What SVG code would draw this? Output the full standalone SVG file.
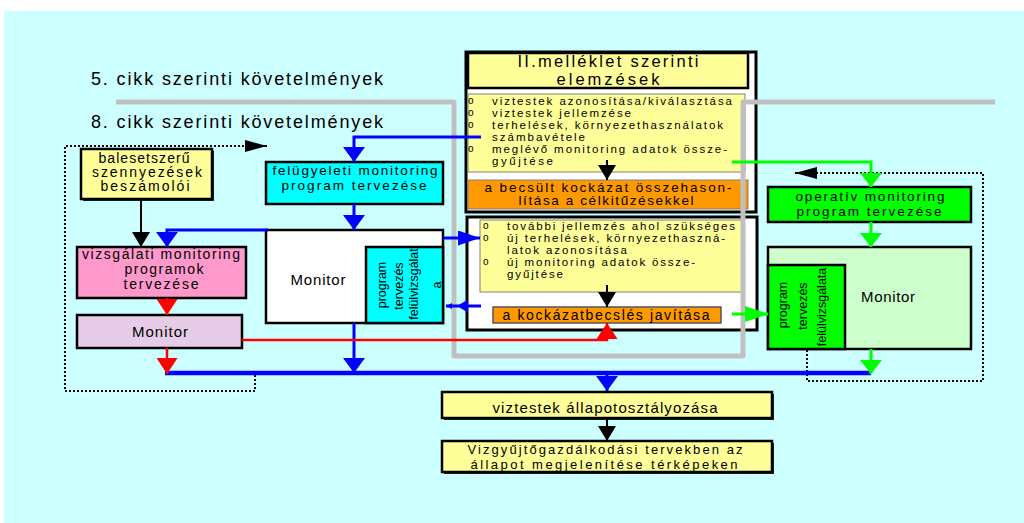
<svg xmlns="http://www.w3.org/2000/svg" width="1024" height="523" viewBox="0 0 1024 523">
<defs>
<style>
.t{font-family:"Liberation Sans",Arial,sans-serif;fill:#000}
.m{text-anchor:middle}
.big{font-size:18px}
.hd{font-size:16.5px}
.bx{font-size:14px}
.bx13{font-size:13.5px}
.bx15{font-size:15px}
.or{font-size:13.5px}
.ls{font-size:11.5px}
.bul{font-size:10px}
.rt{font-size:12.5px}
.box{stroke:#000;stroke-width:2.5}
.thin{stroke:#808080;stroke-width:1}
.sh{fill:#222}
.blue{stroke:#0000FF;stroke-width:3;fill:none}
.bluew{stroke:#0000FF;stroke-width:4.5;fill:none}
.red{stroke:#FF0000;stroke-width:2.5;fill:none}
.green{stroke:#00FF00;stroke-width:3;fill:none}
.black{stroke:#000;stroke-width:2;fill:none}
.dot{stroke:#000;stroke-width:2;stroke-dasharray:2 2;fill:none}
.gray{stroke:#C0C0C0;stroke-width:5;fill:none;stroke-linejoin:round}
</style>
<marker id="aBlueV" viewBox="0 0 15 22" refX="15" refY="11" markerWidth="15" markerHeight="22" markerUnits="userSpaceOnUse" orient="auto"><path d="M0,0 L15,11 L0,22 z" fill="#0000FF"/></marker>
<marker id="aBlueH" viewBox="0 0 22 15" refX="22" refY="7.5" markerWidth="22" markerHeight="15" markerUnits="userSpaceOnUse" orient="auto"><path d="M0,0 L22,7.5 L0,15 z" fill="#0000FF"/></marker>
<marker id="aBlueM" viewBox="0 0 11 13" refX="11" refY="6.5" markerWidth="11" markerHeight="13" markerUnits="userSpaceOnUse" orient="auto"><path d="M0,0 L11,6.5 L0,13 z" fill="#0000FF"/></marker>
<marker id="aBlueS" viewBox="0 0 6 6" refX="6" refY="3" markerWidth="6" markerHeight="6" markerUnits="userSpaceOnUse" orient="auto"><path d="M0,0 L6,3 L0,6 z" fill="#0000FF"/></marker>
<marker id="aRedV" viewBox="0 0 16 21" refX="16" refY="10.5" markerWidth="16" markerHeight="21" markerUnits="userSpaceOnUse" orient="auto"><path d="M0,0 L16,10.5 L0,21 z" fill="#FF0000"/></marker>
<marker id="aGreenV" viewBox="0 0 14 22" refX="14" refY="11" markerWidth="14" markerHeight="22" markerUnits="userSpaceOnUse" orient="auto"><path d="M0,0 L14,11 L0,22 z" fill="#00FF00"/></marker>
<marker id="aGreenH" viewBox="0 0 23 16" refX="23" refY="8" markerWidth="23" markerHeight="16" markerUnits="userSpaceOnUse" orient="auto"><path d="M0,0 L23,8 L0,16 z" fill="#00FF00"/></marker>
<marker id="aBlackV" viewBox="0 0 15 18" refX="15" refY="9" markerWidth="15" markerHeight="18" markerUnits="userSpaceOnUse" orient="auto"><path d="M0,0 L15,9 L0,18 z" fill="#000"/></marker>
<marker id="aBlackH" viewBox="0 0 22 12" refX="22" refY="6" markerWidth="22" markerHeight="12" markerUnits="userSpaceOnUse" orient="auto"><path d="M0,0 L22,6 L0,12 z" fill="#000"/></marker>
</defs>

<rect x="4" y="11" width="1020" height="512" fill="#CCFFFF"/>

<g id="labels">
<text class="t big" x="91" y="85" textLength="292" lengthAdjust="spacing">5. cikk szerinti követelmények</text>
<text class="t big" x="91" y="128" textLength="292" lengthAdjust="spacing">8. cikk szerinti követelmények</text>
</g>

<g id="elemzesek">
<rect x="466" y="52" width="290" height="160" fill="#FFFFFF" stroke="#000" stroke-width="3"/>
<rect x="468" y="53" width="280" height="35" fill="#FFFF99" class="box"/>
<text class="t hd m"><tspan x="608" y="67" textLength="181" lengthAdjust="spacing">II.melléklet szerinti</tspan><tspan x="608" y="85" textLength="103" lengthAdjust="spacing">elemzések</tspan></text>
<rect x="468" y="94" width="277" height="78" fill="#FFFF99" class="thin"/>
<text class="t bul"><tspan x="468" y="104">o</tspan><tspan x="468" y="116">o</tspan><tspan x="468" y="128">o</tspan><tspan x="468" y="152">o</tspan></text>
<text class="t ls"><tspan x="492" y="105" textLength="240" lengthAdjust="spacing">viztestek azonosítása/kiválasztása</tspan><tspan x="492" y="117" textLength="139" lengthAdjust="spacing">viztestek jellemzése</tspan><tspan x="492" y="129" textLength="231" lengthAdjust="spacing">terhelések, környezethasználatok</tspan><tspan x="492" y="141" textLength="93" lengthAdjust="spacing">számbavétele</tspan><tspan x="492" y="153" textLength="235" lengthAdjust="spacing">meglévő monitoring adatok össze-</tspan><tspan x="492" y="165" textLength="61" lengthAdjust="spacing">gyűjtése</tspan></text>
</g>

<g id="osszehasonlitas">
<rect x="468" y="180" width="280" height="29" fill="#FF9900" class="thin"/>
<text class="t or m"><tspan x="608" y="192" textLength="247" lengthAdjust="spacing">a becsült kockázat összehason-</tspan><tspan x="606" y="205" textLength="175" lengthAdjust="spacing">lítása a célkitűzésekkel</tspan></text>
</g>

<g id="tovabbi">
<rect x="467" y="217" width="290" height="113" fill="#FFFFFF" stroke="#000" stroke-width="3"/>
<rect x="480" y="220" width="262" height="72" fill="#FFFF99" class="thin"/>
<text class="t bul"><tspan x="483" y="229">o</tspan><tspan x="483" y="241">o</tspan><tspan x="483" y="265">o</tspan></text>
<text class="t ls"><tspan x="507" y="230" textLength="228" lengthAdjust="spacing">további jellemzés ahol szükséges</tspan><tspan x="507" y="242" textLength="218" lengthAdjust="spacing">új terhelések, környezethaszná-</tspan><tspan x="507" y="254" textLength="120" lengthAdjust="spacing">latok azonosítása</tspan><tspan x="507" y="266" textLength="188" lengthAdjust="spacing">új monitoring adatok össze-</tspan><tspan x="507" y="278" textLength="56" lengthAdjust="spacing">gyűjtése</tspan></text>
</g>

<g id="javitas">
<rect x="493" y="307" width="228" height="16" fill="#FF9900" stroke="#555" stroke-width="1.5"/>
<text class="t bx m" x="606" y="320" textLength="207" lengthAdjust="spacing">a kockázatbecslés javítása</text>
</g>

<g id="balesetszeru">
<rect x="83" y="151" width="131" height="50" class="sh"/>
<rect x="81" y="149" width="131" height="50" fill="#FFFF99" class="box"/>
<text class="t bx m"><tspan x="144" y="163" textLength="91" lengthAdjust="spacing">balesetszerű</tspan><tspan x="147" y="177" textLength="110" lengthAdjust="spacing">szennyezések</tspan><tspan x="145" y="191" textLength="89" lengthAdjust="spacing">beszámolói</tspan></text>
</g>

<g id="vizsgalati">
<rect x="77" y="247" width="169" height="51" fill="#FF99CC" class="box"/>
<text class="t bx m"><tspan x="161" y="259" textLength="158" lengthAdjust="spacing">vizsgálati monitoring</tspan><tspan x="164" y="274" textLength="79" lengthAdjust="spacing">programok</tspan><tspan x="161" y="289" textLength="75" lengthAdjust="spacing">tervezése</tspan></text>
</g>

<g id="monitor-vizsgalati">
<rect x="77" y="315" width="165" height="33" fill="#E6CCE6" class="box"/>
<text class="t bx15 m" x="160" y="337" textLength="56" lengthAdjust="spacing">Monitor</text>
</g>

<g id="felugyeleti">
<rect x="266" y="162" width="177" height="42" fill="#00FFFF" class="box"/>
<text class="t bx13 m"><tspan x="355" y="175" textLength="165" lengthAdjust="spacing">felügyeleti monitoring</tspan><tspan x="354" y="190" textLength="145" lengthAdjust="spacing">program tervezése</tspan></text>
</g>

<g id="monitor-felugyeleti">
<rect x="266" y="230" width="177" height="93" fill="#FFFFFF" class="box"/>
<text class="t bx15 m" x="318" y="285" textLength="55" lengthAdjust="spacing">Monitor</text>
<rect x="366" y="247" width="77" height="76" fill="#00FFFF" class="box"/>
<text class="t rt m" transform="rotate(-90)"><tspan x="-285" y="386">program</tspan><tspan x="-286" y="403">tervezés</tspan><tspan x="-284" y="418">felülvizsgálat</tspan><tspan x="-285" y="441">a</tspan></text>
</g>

<g id="operativ">
<rect x="768" y="187" width="203" height="35" fill="#00FF00" class="box"/>
<text class="t bx13 m"><tspan x="870" y="201" textLength="149" lengthAdjust="spacing">operatív monitoring</tspan><tspan x="869" y="216" textLength="145" lengthAdjust="spacing">program tervezése</tspan></text>
</g>

<g id="monitor-operativ">
<rect x="768" y="247" width="203" height="102" fill="#CCFFCC" class="box"/>
<text class="t bx15 m" x="888" y="302" textLength="54" lengthAdjust="spacing">Monitor</text>
<rect x="768" y="265" width="77" height="84" fill="#00FF00" class="box"/>
<text class="t rt m" transform="rotate(-90)"><tspan x="-305" y="787">program</tspan><tspan x="-306" y="807">tervezés</tspan><tspan x="-307" y="826">felülvizsgálata</tspan></text>
</g>

<g id="allapot">
<rect x="444" y="394" width="330" height="26" class="sh"/>
<rect x="442" y="392" width="330" height="26" fill="#FFFF99" class="box"/>
<text class="t bx15 m" x="605" y="413" textLength="225" lengthAdjust="spacing">viztestek állapotosztályozása</text>
</g>

<g id="terkep">
<rect x="444" y="443" width="330" height="31" class="sh"/>
<rect x="442" y="441" width="330" height="31" fill="#FFFF99" class="box"/>
<text class="t m" style="font-size:13px"><tspan x="605" y="454" textLength="275" lengthAdjust="spacing">Vizgyűjtőgazdálkodási tervekben az</tspan><tspan x="604" y="469" textLength="267" lengthAdjust="spacing">állapot megjelenítése térképeken</tspan></text>
</g>

<g id="connectors">
<path class="gray" d="M116,102 H454 V356 H743 V102 H995"/>
<path class="dot" d="M255,375 V391 H65 V146 H247"/>
<path class="black" d="M245,146 H267" marker-end="url(#aBlackH)"/>
<path class="dot" d="M807,350 V381 H983 V173 H817"/>
<path class="black" d="M817,173 H795" marker-end="url(#aBlackH)"/>
<path class="blue" d="M481,137 H354 V162" marker-end="url(#aBlueV)"/>
<path class="blue" d="M354,204 V230" marker-end="url(#aBlueV)"/>
<path class="blue" d="M268,230 H167 V247" marker-end="url(#aBlueV)"/>
<path class="blue" d="M443,238 H480" marker-end="url(#aBlueH)"/>
<path class="blue" d="M481,306 H457 H446" marker-mid="url(#aBlueM)" marker-end="url(#aBlueS)"/>
<path class="blue" d="M354,323 V373" marker-end="url(#aBlueV)"/>
<path class="bluew" d="M165,373 H871"/>
<path class="blue" d="M607,373 V391" marker-end="url(#aBlueV)"/>
<path class="black" d="M141,199 V247" marker-end="url(#aBlackV)"/>
<path class="black" d="M607,160 V180" marker-end="url(#aBlackV)"/>
<path class="black" d="M607,285 V307" marker-end="url(#aBlackV)"/>
<path class="black" d="M607,418 V441" marker-end="url(#aBlackV)"/>
<path class="red" d="M167,298 V315" marker-end="url(#aRedV)"/>
<path class="red" d="M167,348 V374" marker-end="url(#aRedV)"/>
<path class="red" d="M242,340 H607 V323" marker-end="url(#aRedV)"/>
<path class="green" d="M732,162 H871 V187" marker-end="url(#aGreenV)"/>
<path class="green" d="M871,222 V247" marker-end="url(#aGreenV)"/>
<path class="green" d="M732,314 H768" marker-end="url(#aGreenH)"/>
<path class="green" d="M871,349 V374" marker-end="url(#aGreenV)"/>
</g>
</svg>
